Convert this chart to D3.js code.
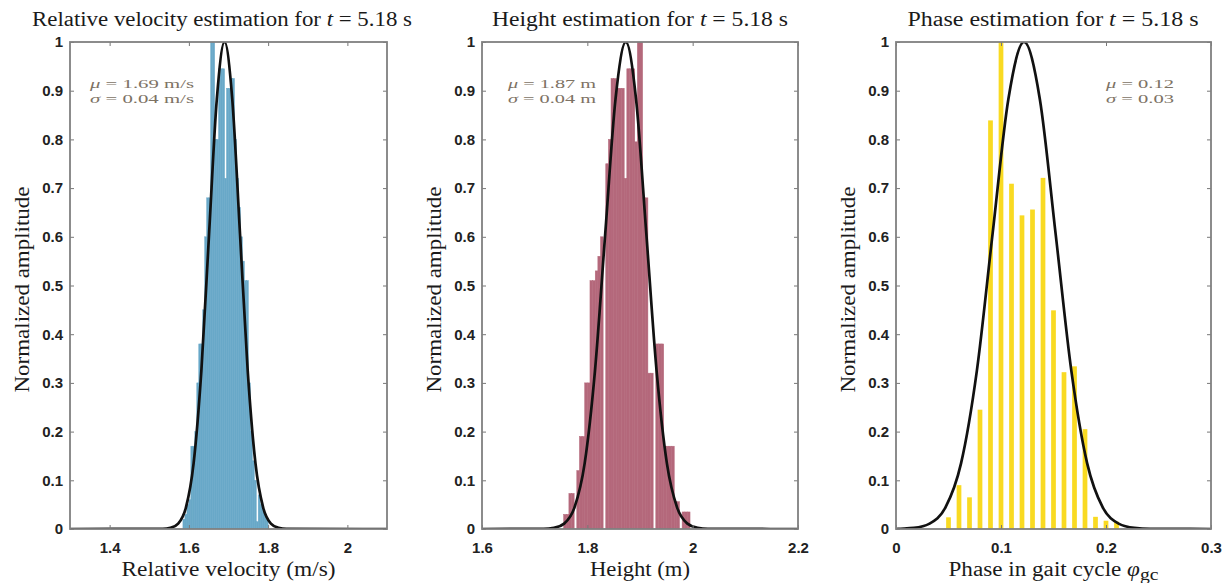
<!DOCTYPE html>
<html lang="en">
<head>
<meta charset="UTF-8">
<title>Estimation for t = 5.18 s</title>
<script src="https://cdn.jsdelivr.net/npm/d3@7"></script>
<style>
  body { margin: 0; background: #fff; }
  svg { display: block; }
  .tick text { font-family: "Liberation Sans", Arial, sans-serif; font-weight: bold; font-size: 15px; fill: #222; }
  .tick line { stroke: #777; }
  .serif { font-family: "Liberation Serif", "Times New Roman", serif; fill: #1a1a1a; }
</style>
</head>
<body>
<div id="chart"></div>
<script>
// ---- data ----
const yTicks = [0, 0.1, 0.2, 0.3, 0.4, 0.5, 0.6, 0.7, 0.8, 0.9, 1];

// relative velocity (m/s): bin left edges, bin width 0.005
const velTicks = [1.4, 1.6, 1.8, 2];
const velEdges = [1.585, 1.59, 1.595, 1.6, 1.605, 1.61, 1.615, 1.62, 1.625, 1.63, 1.635, 1.64, 1.645, 1.65,
  1.655, 1.66, 1.665, 1.67, 1.675, 1.68, 1.685, 1.69, 1.695, 1.7, 1.705, 1.71, 1.715, 1.72, 1.725, 1.73,
  1.735, 1.74, 1.745, 1.75, 1.755, 1.76, 1.765, 1.77, 1.775, 1.78, 1.785, 1.79, 1.795];
const velAmp = [0.02, 0.03, 0.05, 0.06, 0.17, 0.17, 0.2, 0.3, 0.38, 0.38, 0.45, 0.6, 0.68, 0.68,
  1.0, 1.0, 0.8, 0.8, 0.945, 0.945, 0.945, 0.72, 0.905, 0.905, 0.925, 0.925, 0.8, 0.72, 0.66, 0.6,
  0.55, 0.51, 0.51, 0.3, 0.2, 0.14, 0.1, 0.015, 0.07, 0.05, 0.04, 0.03, 0.02];

// height (m): bin left edges, bin width 0.005
const heightTicks = [1.6, 1.8, 2, 2.2];
const heightEdges = [1.755, 1.76, 1.765, 1.77, 1.775, 1.78, 1.785, 1.79, 1.795, 1.8, 1.805, 1.81, 1.815,
  1.82, 1.825, 1.83, 1.835, 1.84, 1.845, 1.85, 1.855, 1.86, 1.865, 1.87, 1.875, 1.88, 1.885, 1.89, 1.895,
  1.9, 1.905, 1.91, 1.915, 1.92, 1.925, 1.93, 1.935, 1.94, 1.945, 1.95, 1.955, 1.96, 1.965, 1.97, 1.975,
  1.98, 1.985, 1.99];
const heightAmp = [0.03, 0.03, 0.073, 0.073, 0, 0.12, 0.19, 0.19, 0.3, 0.3, 0.51, 0.51, 0.53,
  0.56, 0.6, 0, 0.75, 0.8, 0.925, 0.925, 0.905, 0.905, 0.905, 0.72, 0.945, 0.945, 0.945, 0.795, 1.0,
  1.0, 0.68, 0.68, 0.32, 0.32, 0, 0.38, 0.38, 0.38, 0.17, 0.17, 0.17, 0.17, 0.056, 0.056, 0,
  0.035, 0.035, 0.035];

// phase in gait cycle: bar centres
const phaseTicks = [0, 0.1, 0.2, 0.3];
const phaseCentres = [0.05, 0.06, 0.07, 0.08, 0.09, 0.1, 0.11, 0.12, 0.13, 0.14, 0.15, 0.16, 0.17,
  0.18, 0.19, 0.2, 0.21];
const phaseAmp = [0.024, 0.09, 0.065, 0.245, 0.839, 1.0, 0.709, 0.644, 0.656, 0.721, 0.449, 0.322,
  0.334, 0.205, 0.025, 0.017, 0.015];

// fitted curves, points
const curveAmp = [0, 0.0003, 0.0022, 0.0111, 0.0439, 0.1353, 0.3247, 0.6065, 0.8825, 1,
  0.8825, 0.6065, 0.3247, 0.1353, 0.0439, 0.0111, 0.0022, 0.0003, 0];
const velCurveX = [1.3, 1.534, 1.5535, 1.573, 1.5925, 1.612, 1.6315, 1.651, 1.6705, 1.69,
  1.7095, 1.729, 1.7485, 1.768, 1.7875, 1.807, 1.8265, 1.846, 2.1];
const heightCurveX = [1.6, 1.717, 1.7365, 1.756, 1.7755, 1.795, 1.8145, 1.834, 1.8535, 1.873,
  1.8925, 1.912, 1.9315, 1.951, 1.9705, 1.99, 2.0095, 2.029, 2.2];
const phaseCurveX = [0, 0.002, 0.017, 0.032, 0.047, 0.062, 0.077, 0.092, 0.107, 0.122,
  0.137, 0.152, 0.167, 0.182, 0.197, 0.212, 0.227, 0.242, 0.3];

const muText = ["1.69 m/s", "1.87 m", "0.12"];
const sigmaText = ["0.04 m/s", "0.04 m", "0.03"];

// ---- layout ----
const W = 1231, H = 583;
const plotTop = 42, plotBottom = 529;

const panels = [
  { left: 70, width: 317, domain: [1.3, 2.1], ticks: velTicks, xs: velEdges, amp: velAmp,
    barW: 0.005, shift: 0, color: "#68a8c8", curveX: velCurveX,
    title: "Relative velocity estimation for ", titleX: 222, titleW: 380,
    xlabel: "Relative velocity (m/s)", xlabelW: 214, statX: 90, statW: 104 },
  { left: 482, width: 316, domain: [1.6, 2.2], ticks: heightTicks, xs: heightEdges, amp: heightAmp,
    barW: 0.005, shift: 0, color: "#b4687b", curveX: heightCurveX,
    title: "Height estimation for ", titleX: 640, titleW: 296,
    xlabel: "Height (m)", xlabelW: 100, statX: 508, statW: 88 },
  { left: 896, width: 315, domain: [0, 0.3], ticks: phaseTicks, xs: phaseCentres, amp: phaseAmp,
    barW: 0.0045, shift: -0.00225, color: "#f9da22", curveX: phaseCurveX,
    title: "Phase estimation for ", titleX: 1053, titleW: 291,
    xlabel: null, xlabelW: 210, statX: 1106, statW: 68 }
];

const svg = d3.select("#chart").append("svg")
  .attr("width", W).attr("height", H);

const y = d3.scaleLinear().domain([0, 1]).range([plotBottom, plotTop]);

panels.forEach(function(p, i) {
  const x = d3.scaleLinear().domain(p.domain).range([p.left, p.left + p.width]);
  const g = svg.append("g");

  g.append("clipPath").attr("id", "clip" + i)
    .append("rect").attr("x", p.left).attr("y", plotTop).attr("width", p.width).attr("height", plotBottom - plotTop);

  // bars (thin same-colour stroke hides the anti-alias seams)
  g.append("g").attr("clip-path", "url(#clip" + i + ")")
    .selectAll("rect").data(p.xs).enter().append("rect")
      .attr("x", d => x(d + p.shift))
      .attr("width", d => x(d + p.shift + p.barW) - x(d + p.shift))
      .attr("y", (d, j) => y(p.amp[j]))
      .attr("height", (d, j) => plotBottom - y(p.amp[j]))
      .attr("fill", p.color)
      .attr("stroke", (d, j) => p.amp[j] > 0 && p.barW === 0.005 ? p.color : "none")
      .attr("stroke-width", 0.5);

  // fitted curve
  g.append("path")
    .datum(p.curveX.map((d, j) => [d, curveAmp[j]]))
    .attr("clip-path", "url(#clip" + i + ")")
    .attr("fill", "none")
    .attr("stroke", "#111")
    .attr("stroke-width", 2.7)
    .attr("d", d3.line().x(d => x(d[0])).y(d => y(d[1])).curve(d3.curveMonotoneX));

  // axes, ticks inside on all four sides
  const ax = [
    g.append("g").attr("transform", "translate(0," + plotBottom + ")")
      .call(d3.axisBottom(x).tickValues(p.ticks).tickSize(-4).tickPadding(13).tickFormat(String)),
    g.append("g").attr("transform", "translate(0," + plotTop + ")")
      .call(d3.axisTop(x).tickValues(p.ticks).tickSize(-4).tickFormat("")),
    g.append("g").attr("transform", "translate(" + p.left + ",0)")
      .call(d3.axisLeft(y).tickValues(yTicks).tickSize(-4).tickPadding(7).tickFormat(String)),
    g.append("g").attr("transform", "translate(" + (p.left + p.width) + ",0)")
      .call(d3.axisRight(y).tickValues(yTicks).tickSize(-4).tickFormat(""))
  ];
  ax.forEach(a => a.select(".domain").remove());
  ax.forEach(a => a.attr("font-size", null).attr("font-family", null));

  g.append("rect")
    .attr("x", p.left).attr("y", plotTop).attr("width", p.width).attr("height", plotBottom - plotTop)
    .attr("fill", "none").attr("stroke", "#808080").attr("stroke-width", 1.8);

  const cx = p.left + p.width / 2;

  // title
  const t = g.append("text").attr("class", "serif")
    .attr("x", p.titleX).attr("y", 26).attr("text-anchor", "middle")
    .attr("font-size", 20)
    .attr("textLength", p.titleW).attr("lengthAdjust", "spacingAndGlyphs");
  t.append("tspan").text(p.title);
  t.append("tspan").attr("font-style", "italic").text("t");
  t.append("tspan").text(" = 5.18 s");

  // x label
  const xl = g.append("text").attr("class", "serif")
    .attr("x", cx).attr("y", 576).attr("text-anchor", "middle")
    .attr("font-size", 20)
    .attr("textLength", p.xlabelW).attr("lengthAdjust", "spacingAndGlyphs");
  if (p.xlabel) {
    xl.text(p.xlabel);
  } else {
    xl.append("tspan").text("Phase in gait cycle ");
    xl.append("tspan").attr("font-style", "italic").text("\u03C6");
    xl.append("tspan").attr("font-size", 17).attr("dy", 4).text("gc");
  }

  // y label
  g.append("text").attr("class", "serif")
    .attr("transform", "translate(" + (p.left - 48) + "," + ((plotTop + plotBottom) / 2 + 4) + ") rotate(-90)")
    .attr("text-anchor", "middle").attr("dy", "0.35em")
    .attr("font-size", 20)
    .attr("textLength", 206).attr("lengthAdjust", "spacingAndGlyphs")
    .text("Normalized amplitude");

  // mu / sigma note
  [["\u03BC", muText[i], 88], ["\u03C3", sigmaText[i], 103]].forEach(function(s) {
    const n = g.append("text").attr("class", "serif")
      .attr("x", p.statX).attr("y", s[2])
      .attr("font-size", 13.5).style("fill", "#7d7264")
      .attr("textLength", p.statW).attr("lengthAdjust", "spacingAndGlyphs");
    n.append("tspan").attr("font-style", "italic").text(s[0]);
    n.append("tspan").text(" = " + s[1]);
  });
});
</script>
</body>
</html>
